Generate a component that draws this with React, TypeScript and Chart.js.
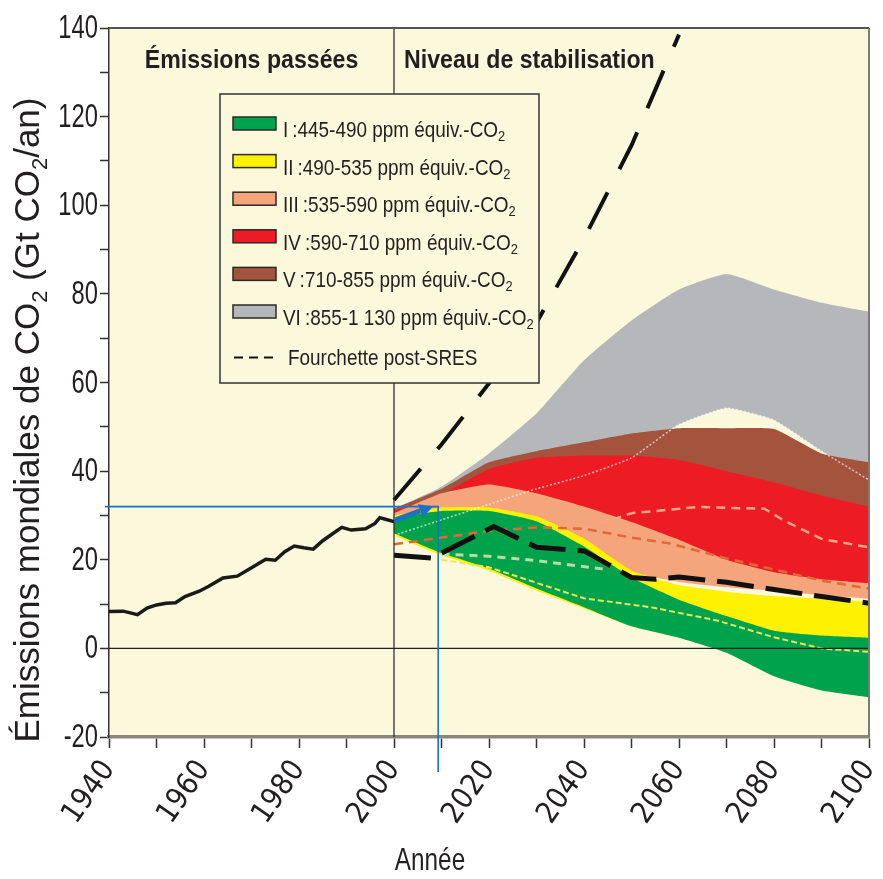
import React, { useEffect, useRef } from 'react';
import { Chart, registerables } from 'chart.js';

Chart.register(...registerables);

const NARROW = "'Liberation Sans Narrow', 'DejaVu Sans Condensed', 'Liberation Sans', sans-serif";
const SANS = "'Liberation Sans', Arial, sans-serif";

// ---- axes ----
const X_MIN = 1940;
const X_MAX = 2100;
const Y_MIN = -20;
const Y_MAX = 140;
const X_STEP = 10;
const Y_STEP = 10;
const X_LABEL_EVERY = 20;
const Y_LABEL_EVERY = 20;

// ---- historical emissions ----
const histYears = [1940, 1943, 1946, 1948, 1950, 1952, 1954, 1956, 1959, 1961, 1964, 1967, 1970, 1973, 1975, 1977, 1979, 1981, 1983, 1985, 1987, 1989, 1991, 1994, 1996, 1997, 1998, 2000];
const histValues = [8.3, 8.4, 7.6, 9.1, 9.8, 10.2, 10.3, 11.7, 12.9, 14.0, 15.9, 16.3, 18.2, 20.1, 19.9, 21.8, 23.1, 22.7, 22.4, 24.3, 25.8, 27.3, 26.7, 27.0, 28.2, 29.5, 29.2, 28.6];

// ---- stabilisation bands (upper / lower bounds) ----
const projYears = [2000, 2010, 2020, 2030, 2040, 2050, 2060, 2070, 2080, 2090, 2100];
const greenUpper = [29.5, 31, 31, 28.7, 23, 16, 11, 7.3, 4, 2.9, 2.4];
const greenLower = [26, 21.5, 18, 13.5, 9.3, 5, 2.4, -1, -6.3, -9.5, -11];
const yellowUpper = [30, 31.8, 31.8, 29.8, 24.8, 17.6, 14.3, 12.8, 11.8, 11.2, 10.6];
const yellowLower = [25.5, 21, 17.5, 13, 9, 5, 2.5, 0, -1, -1.5, -1.5];
const salmonUpper = [30.5, 35, 37, 35, 32, 28.5, 24.5, 20, 17.2, 15.6, 14.7];
const salmonLower = [25.5, 22, 23, 21, 19, 17, 15, 13.8, 13, 12, 11.2];
const redUpper = [31, 34.7, 40.5, 43, 43.5, 43.5, 42.5, 40, 37.5, 34.5, 32];
const redLower = [26, 26.5, 27, 26, 24, 22, 20, 18, 16, 14.5, 13.5];
const brownUpper = [31.5, 36, 42, 44.5, 46.5, 48.5, 49.7, 49.7, 49.5, 44, 42];
const brownLower = [26.5, 30, 32, 33, 34, 35, 35, 34, 32, 30, 28];
const grayUpper = [31.5, 36.5, 44, 53, 65, 74, 81, 84.5, 81, 78, 76];
const grayLower = [25.5, 29, 32.5, 36, 39, 43, 50.5, 54.2, 51.5, 44.5, 38];

const bandNumerals = ['I', 'II', 'III', 'IV', 'V', 'VI'];
const bandRanges = ['445-490', '490-535', '535-590', '590-710', '710-855', '855-1 130'];
const bandColors = ['#00a24c', '#fff200', '#f5a57c', '#ed1c24', '#a4543d', '#b5b7bb'];

// ---- post-SRES range (black dashed) ----
const sresHighYears = [2000, 2010, 2020, 2030, 2040, 2050, 2060];
const sresHighValues = [33.5, 46, 59.8, 73.5, 92.5, 113.5, 138.5];
const sresLowYears = [2000, 2008, 2021, 2030, 2040, 2045, 2050, 2055, 2060, 2070, 2080, 2090, 2100];
const sresLowValues = [21, 20.4, 27.5, 22.8, 22, 19, 16, 15.6, 16.1, 14.9, 13.3, 11.7, 10.2];

// ---- coloured dashed lines inside the bands ----
const orangeDashYears = [2000, 2010, 2020, 2030, 2040, 2050, 2058, 2070, 2080, 2090, 2100];
const orangeDashValues = [23.5, 25, 26.5, 27.3, 27, 25, 23.7, 20.3, 17.8, 15.3, 13.5];
const salmonDashYears = [2040, 2050, 2064, 2078, 2082, 2090, 2100];
const salmonDashValues = [27, 30.5, 31.9, 31.5, 28.9, 24.7, 22.8];
const paleGreenDashYears = [2010, 2020, 2030, 2045];
const paleGreenDashValues = [21.3, 20.8, 19.8, 17.8];
const yellowDashYears = [2010, 2020, 2030, 2040, 2054, 2068, 2080, 2090, 2100];
const yellowDashValues = [20, 18.3, 14.8, 11.3, 9.3, 6.3, 2.5, 0, -0.8];

// ---- reference lines / annotations ----
const zeroLevel = 0;
const dividerYear = 2000;
const blueGuideLevel = 32;
const blueGuideYear = 2009.3;
const blueArrowFrom = [2000, 28.9];
const blueArrowTo = [2008.3, 32.1];

const PLOT_BG = '#fcf8dc';
const TEXT = '#231f20';

const pts = (xs: number[], ys: number[]) => xs.map((x, i) => ({ x, y: ys[i] }));

function buildDatasets() {
  const ds: any[] = [];
  const lineBase = { pointRadius: 0, fill: false, tension: 0, order: 0 };
  ds.push({ ...lineBase, data: pts(histYears, histValues), borderColor: '#1a1a1a', borderWidth: 3.5 });
  ds.push({ ...lineBase, data: pts(sresHighYears, sresHighValues), borderColor: '#111', borderWidth: 4, borderDash: [41, 26] });
  ds.push({ ...lineBase, data: pts(sresLowYears, sresLowValues), borderColor: '#111', borderWidth: 5, borderDash: [37, 12] });
  ds.push({ ...lineBase, data: pts(orangeDashYears, orangeDashValues), borderColor: '#e2683a', borderWidth: 2.5, borderDash: [9, 6] });
  ds.push({ ...lineBase, data: pts(salmonDashYears, salmonDashValues), borderColor: '#f5a58a', borderWidth: 2.5, borderDash: [9, 6] });
  ds.push({ ...lineBase, data: pts(paleGreenDashYears, paleGreenDashValues), borderColor: '#b8dca8', borderWidth: 3, borderDash: [8, 6] });
  ds.push({ ...lineBase, data: pts(yellowDashYears, yellowDashValues), borderColor: '#e4ea5a', borderWidth: 2, borderDash: [6, 3] });
  const grayLowerIndex = ds.length;
  ds.push({ ...lineBase, tension: 0.15, data: pts(projYears, grayLower), borderColor: 'rgba(255,255,255,0.65)', borderWidth: 1.5, borderDash: [2, 2] });

  const uppers = [greenUpper, yellowUpper, salmonUpper, redUpper, brownUpper, grayUpper];
  const lowers = [greenLower, yellowLower, salmonLower, redLower, brownLower, grayLower];
  uppers.forEach((up, k) => {
    const base = { pointRadius: 0, tension: 0.15, borderWidth: 0, borderColor: 'rgba(0,0,0,0)', order: k + 1 };
    if (k === 5) {
      ds.push({ ...base, data: pts(projYears, up), backgroundColor: bandColors[k], fill: grayLowerIndex });
    } else {
      ds.push({ ...base, data: pts(projYears, up), backgroundColor: bandColors[k], fill: '+1' });
      ds.push({ ...base, data: pts(projYears, lowers[k]), fill: false });
    }
  });
  return ds;
}

// draws horizontally-condensed text (Helvetica-Condensed look)
function condText(ctx: CanvasRenderingContext2D, text: string, x: number, y: number, font: string, sx: number, align: CanvasTextAlign = 'left', baseline: CanvasTextBaseline = 'alphabetic') {
  ctx.save();
  ctx.font = font;
  ctx.textAlign = align;
  ctx.textBaseline = baseline;
  ctx.translate(x, y);
  ctx.scale(sx, 1);
  ctx.fillText(text, 0, 0);
  const w = ctx.measureText(text).width * sx;
  ctx.restore();
  return w;
}

function drawParts(ctx: CanvasRenderingContext2D, x: number, y: number, parts: [string, boolean][], font: (sub: boolean) => string, subShift: number, sx: number) {
  let cx = x;
  for (const [t, sub] of parts) {
    cx += condText(ctx, t, cx, y + (sub ? subShift : 0), font(sub), sx);
  }
  return cx;
}
function measureParts(ctx: CanvasRenderingContext2D, parts: [string, boolean][], font: (sub: boolean) => string, sx: number) {
  let w = 0;
  for (const [t, sub] of parts) {
    ctx.font = font(sub);
    w += ctx.measureText(t).width * sx;
  }
  return w;
}

const decor = {
  id: 'decor',
  beforeDraw(chart: any) {
    const { ctx, chartArea: a } = chart;
    ctx.save();
    ctx.fillStyle = '#ffffff';
    ctx.fillRect(0, 0, chart.width, chart.height);
    ctx.fillStyle = PLOT_BG;
    ctx.fillRect(a.left, a.top, a.right - a.left, a.bottom - a.top);
    ctx.restore();
  },
  afterDatasetsDraw(chart: any) {
    const { ctx, chartArea: a, scales } = chart;
    const xs = scales.x, ys = scales.y;
    ctx.save();
    // zero line and 2000 divider
    ctx.strokeStyle = '#222';
    ctx.lineWidth = 1.2;
    const y0 = ys.getPixelForValue(zeroLevel);
    ctx.beginPath(); ctx.moveTo(a.left, y0); ctx.lineTo(a.right, y0); ctx.stroke();
    const xd = xs.getPixelForValue(dividerYear);
    ctx.beginPath(); ctx.moveTo(xd, a.top); ctx.lineTo(xd, a.bottom); ctx.stroke();
    // top and right frame
    ctx.strokeStyle = '#555';
    ctx.lineWidth = 2;
    ctx.beginPath(); ctx.moveTo(a.left, a.top); ctx.lineTo(a.right, a.top); ctx.stroke();
    ctx.strokeStyle = '#7a7a7a';
    ctx.beginPath(); ctx.moveTo(a.right, a.top); ctx.lineTo(a.right, a.bottom); ctx.stroke();

    // panel headers
    ctx.fillStyle = TEXT;
    condText(ctx, 'Émissions passées', (a.left + xd) / 2, a.top + 40, `bold 26px ${SANS}`, 0.89, 'center');
    condText(ctx, 'Niveau de stabilisation', xd + 10, a.top + 40, `bold 26px ${SANS}`, 0.89, 'left');

    // legend box
    const lx = a.left + 111, ly = a.top + 66, lw = 319, lh = 289;
    ctx.fillStyle = PLOT_BG;
    ctx.fillRect(lx, ly, lw, lh);
    ctx.strokeStyle = '#333';
    ctx.lineWidth = 1.5;
    ctx.strokeRect(lx, ly, lw, lh);
    const rowH = 37.6;
    const sx = 0.86;
    const fontMain = (sub: boolean) => (sub ? `15px ${SANS}` : `22px ${SANS}`);
    for (let k = 0; k < bandNumerals.length; k++) {
      const sy = ly + 23 + rowH * k;
      ctx.fillStyle = bandColors[k];
      ctx.fillRect(lx + 13, sy, 43, 13);
      ctx.strokeStyle = '#2a2a2a';
      ctx.lineWidth = 1.5;
      ctx.strokeRect(lx + 13, sy, 43, 13);
      ctx.fillStyle = TEXT;
      const by = sy + 20;
      const nw = condText(ctx, bandNumerals[k], lx + 63, by, fontMain(false), sx);
      const cx = Math.max(lx + 63 + nw + 4, lx + 72);
      drawParts(ctx, cx, by, [[`:${bandRanges[k]} ppm équiv.-CO`, false], ['2', true]], fontMain, 4, sx);
    }
    const dy = ly + 23 + rowH * 6 + 15;
    ctx.strokeStyle = '#111';
    ctx.lineWidth = 2;
    ctx.setLineDash([9, 6]);
    ctx.beginPath(); ctx.moveTo(lx + 14, dy); ctx.lineTo(lx + 57, dy); ctx.stroke();
    ctx.setLineDash([]);
    ctx.fillStyle = TEXT;
    condText(ctx, 'Fourchette post-SRES', lx + 68, dy + 7, fontMain(false), sx);
    ctx.restore();
  },
  afterDraw(chart: any) {
    const { ctx, chartArea: a, scales } = chart;
    const xs = scales.x, ys = scales.y;
    ctx.save();
    // y tick labels (condensed)
    ctx.fillStyle = TEXT;
    for (const t of ys.ticks) {
      if (t.value % Y_LABEL_EVERY !== 0) continue;
      condText(ctx, String(t.value), a.left - 11, ys.getPixelForValue(t.value) + 1, `33px ${SANS}`, 0.72, 'right', 'middle');
    }

    // blue guides
    const gy = ys.getPixelForValue(blueGuideLevel);
    const gx = xs.getPixelForValue(blueGuideYear);
    ctx.strokeStyle = '#1b72c4';
    ctx.lineWidth = 1.6;
    ctx.beginPath(); ctx.moveTo(a.left - 4, gy); ctx.lineTo(gx, gy); ctx.lineTo(gx, a.bottom + 35); ctx.stroke();
    const x1 = xs.getPixelForValue(blueArrowFrom[0]), y1 = ys.getPixelForValue(blueArrowFrom[1]);
    const x2 = xs.getPixelForValue(blueArrowTo[0]), y2 = ys.getPixelForValue(blueArrowTo[1]);
    const ang = Math.atan2(y2 - y1, x2 - x1);
    const hl = 14, hw = 7;
    const bx = x2 - hl * Math.cos(ang), by = y2 - hl * Math.sin(ang);
    ctx.lineWidth = 5;
    ctx.beginPath(); ctx.moveTo(x1, y1); ctx.lineTo(bx, by); ctx.stroke();
    ctx.fillStyle = '#1b72c4';
    ctx.beginPath();
    ctx.moveTo(x2, y2);
    ctx.lineTo(bx + hw * Math.sin(ang), by - hw * Math.cos(ang));
    ctx.lineTo(bx - hw * Math.sin(ang), by + hw * Math.cos(ang));
    ctx.closePath();
    ctx.fill();

    // y title with subscripts
    const parts: [string, boolean][] = [['Émissions mondiales de CO', false], ['2', true], [' (Gt CO', false], ['2', true], ['/an)', false]];
    const fy = (sub: boolean) => (sub ? `22px ${SANS}` : `35px ${SANS}`);
    const tw = measureParts(ctx, parts, fy, 1);
    ctx.translate(39, 420);
    ctx.rotate(-Math.PI / 2);
    ctx.fillStyle = TEXT;
    drawParts(ctx, -tw / 2, 0, parts, fy, 8, 1);
    ctx.setTransform(1, 0, 0, 1, 0, 0);
    // x title
    ctx.fillStyle = TEXT;
    condText(ctx, 'Année', 430, 870, `32px ${SANS}`, 0.76, 'center');
    ctx.restore();
  },
};

export default function App() {
  const ref = useRef<HTMLCanvasElement>(null);
  useEffect(() => {
    const canvas = ref.current!;
    const chart = new Chart(canvas, {
      type: 'line',
      data: { datasets: buildDatasets() },
      options: {
        responsive: false,
        animation: false,
        events: [],
        layout: { padding: { top: 28, right: 14, left: 0, bottom: 0 } },
        plugins: { legend: { display: false }, tooltip: { enabled: false } },
        scales: {
          x: {
            type: 'linear',
            min: X_MIN,
            max: X_MAX,
            afterFit: (s: any) => { s.height = 142; s.paddingLeft = 0; s.paddingRight = 0; },
            ticks: {
              stepSize: X_STEP,
              autoSkip: false,
              minRotation: 55,
              maxRotation: 55,
              padding: 6,
              color: TEXT,
              font: { family: NARROW, size: 30 },
              callback: (v: any) => (Number(v) % X_LABEL_EVERY === 0 ? String(v) : ''),
            },
            grid: { drawOnChartArea: false, drawTicks: true, tickLength: 11, tickColor: '#333', tickWidth: 1.5 },
            border: { display: true, color: '#8a877c', width: 3.5 },
          },
          y: {
            type: 'linear',
            min: Y_MIN,
            max: Y_MAX,
            afterFit: (s: any) => { s.width = 109; },
            ticks: {
              stepSize: Y_STEP,
              autoSkip: false,
              padding: 2,
              color: 'rgba(0,0,0,0)',
              font: { family: SANS, size: 24 },
              callback: (v: any) => (Number(v) % Y_LABEL_EVERY === 0 ? String(v) : ''),
            },
            grid: { drawOnChartArea: false, drawTicks: true, tickLength: 9, tickColor: '#333', tickWidth: 1.5 },
            border: { display: true, color: '#333', width: 1.5 },
          },
        },
      },
      plugins: [decor],
    } as any);
    return () => chart.destroy();
  }, []);
  return (
    <div style={{ position: 'absolute', left: 0, top: 0, width: 883, height: 879, background: '#fff' }}>
      <canvas ref={ref} width={883} height={879} style={{ display: 'block' }} />
    </div>
  );
}
